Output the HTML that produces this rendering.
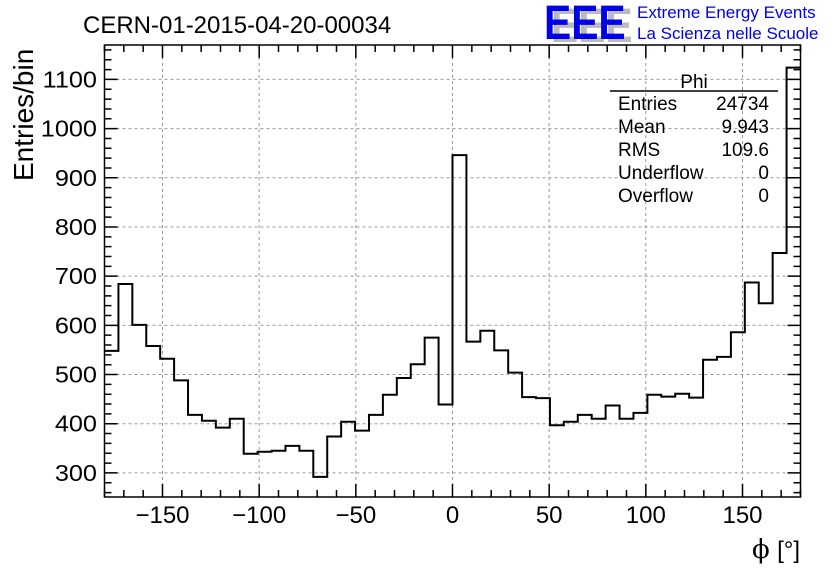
<!DOCTYPE html>
<html><head><meta charset="utf-8"><style>
html,body{margin:0;padding:0;background:#fff;}
svg{display:block;font-family:"Liberation Sans",sans-serif;}
</style></head><body>
<svg id="chart" width="836" height="572" viewBox="0 0 836 572" xmlns="http://www.w3.org/2000/svg">
<rect width="836" height="572" fill="#fff"/>
<text x="83" y="33" font-size="24">CERN-01-2015-04-20-00034</text>
<g>
<text transform="translate(551,42) scale(0.85,1)" font-size="48" font-weight="bold" fill="#bbb">EEE</text>
<text transform="translate(544,39) scale(0.85,1)" font-size="48" font-weight="bold" fill="#0000ee">EEE</text>
<text x="637" y="18" font-size="17" fill="#0000ee">Extreme Energy Events</text>
<text x="637" y="39" font-size="17" fill="#0000ee">La Scienza nelle Scuole</text>
</g>
<g id="grid"></g>
<g id="ticks"></g>
<path id="hist" fill="none" stroke="#000" stroke-width="2"/>
<rect x="104.5" y="45" width="696" height="452" fill="none" stroke="#000" stroke-width="1.5"/>
<g id="labels"></g>
<text transform="translate(33,181) rotate(-90)" font-size="28">Entries/bin</text>
<g>
<text x="752" y="558" font-size="26" font-family="DejaVu Serif, serif">ϕ</text>
<text x="800" y="558" font-size="24" text-anchor="end">[°]</text>
</g>
<g font-size="19">
<text x="694" y="88" text-anchor="middle">Phi</text>
<line x1="610" y1="91" x2="778" y2="91" stroke="#000" stroke-width="1.5"/>
<text x="618" y="110">Entries</text><text x="769" y="110" text-anchor="end">24734</text>
<text x="618" y="133">Mean</text><text x="769" y="133" text-anchor="end">9.943</text>
<text x="618" y="156">RMS</text><text x="769" y="156" text-anchor="end">109.6</text>
<text x="618" y="179">Underflow</text><text x="769" y="179" text-anchor="end">0</text>
<text x="618" y="202">Overflow</text><text x="769" y="202" text-anchor="end">0</text>
</g>
</svg>
<script>
const binLow = -180;
const binWidth = 7.2;
const counts = [548,684,601,558,532,488,418,406,392,410,339,343,345,355,345,292,374,404,386,418,459,493,521,575,439,946,567,589,549,504,454,452,397,404,418,410,437,410,422,459,455,461,453,530,536,586,687,645,747,1124];
const xTicks = [-150,-100,-50,0,50,100,150];
const xTickLabels = ["\u2212150","\u2212100","\u221250","0","50","100","150"];
const yTicks = [300,400,500,600,700,800,900,1000,1100];
const yTickLabels = ["300","400","500","600","700","800","900","1000","1100"];

const X0=104.5,X1=800.5,Y0=497,Y1=45,xmin=-180,xmax=180,ymin=251,ymax=1170;
const sx=v=>X0+(v-xmin)/(xmax-xmin)*(X1-X0);
const sy=v=>Y0-(v-ymin)/(ymax-ymin)*(Y0-Y1);
const NS="http://www.w3.org/2000/svg";
function mk(tag,attrs,parent){const e=document.createElementNS(NS,tag);for(const k in attrs)e.setAttribute(k,attrs[k]);parent.appendChild(e);return e;}
const grid=document.getElementById('grid'),ticks=document.getElementById('ticks'),labels=document.getElementById('labels');
xTicks.forEach((t,i)=>{
  const x=sx(t);
  const g=mk('line',{x1:x,x2:x,y1:Y1,y2:Y0,stroke:'#999','stroke-dasharray':'3,3','stroke-width':1},grid);
  
  
  const l=mk('text',{x:x,y:523,'font-size':24,'text-anchor':'middle'},labels);
  l.textContent=xTickLabels[i];
  
  
});
yTicks.forEach((t,i)=>{
  const y=sy(t);
  const g=mk('line',{x1:X0,x2:X1,y1:y,y2:y,stroke:'#999','stroke-dasharray':'3,3','stroke-width':1},grid);
  
  
  const l=mk('text',{transform:`translate(97,${y+8}) scale(1.1,1)`,'font-size':23,'text-anchor':'end'},labels);
  l.textContent=yTickLabels[i];
  
  
});
let d='';
for(let v=-180;v<=180;v+=10){const x=sx(v);const L=(v%50===0)?13:7;d+=`M${x},${Y0}v${-L}M${x},${Y1}v${L}`;}
for(let v=260;v<=1160;v+=20){const y=sy(v);const L=(v%100===0)?13:7;d+=`M${X0},${y}h${L}M${X1},${y}h${-L}`;}
const tk=mk('path',{d:d,stroke:'#000','stroke-width':1.5,fill:'none'},ticks);


let p='';
counts.forEach((c,i)=>{const xa=sx(binLow+i*binWidth),xb=sx(binLow+(i+1)*binWidth),y=sy(c);p+=(i===0?`M${xa},${y}`:`L${xa},${y}`)+`L${xb},${y}`;});
document.getElementById('hist').setAttribute('d',p);
</script>
</body></html>
